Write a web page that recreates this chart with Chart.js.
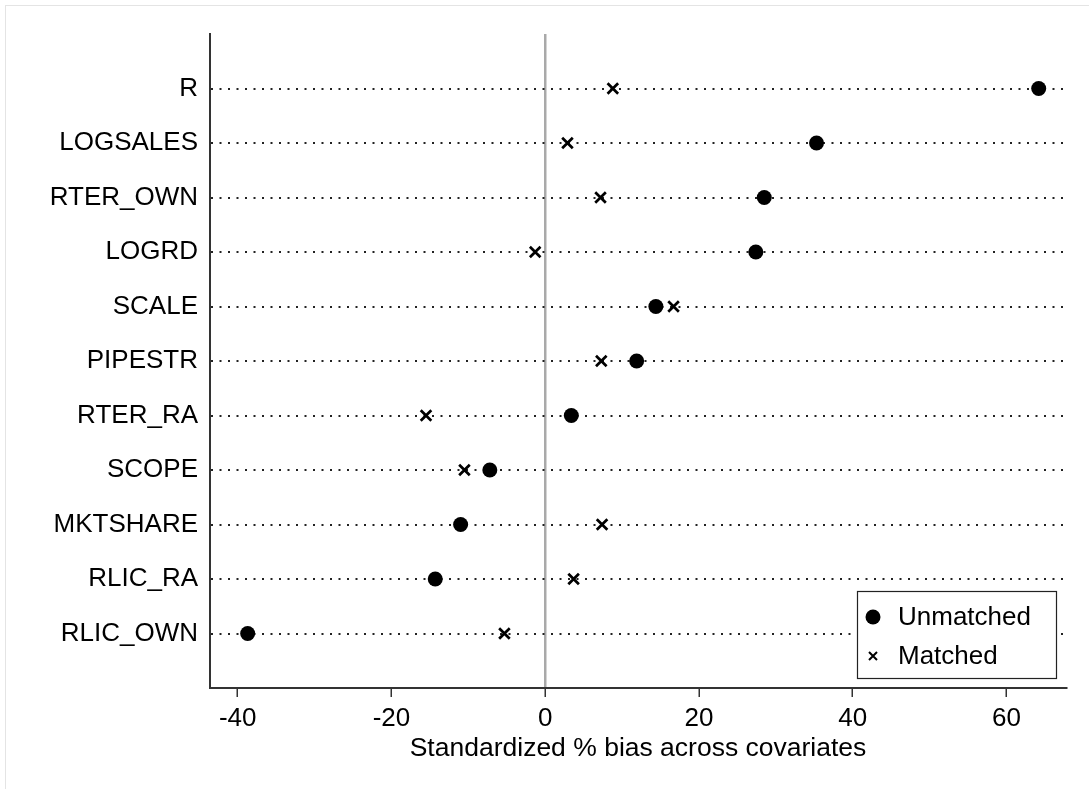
<!DOCTYPE html>
<html>
<head>
  <meta charset="UTF-8" />
  <title>Standardized bias</title>
  <script src="https://cdn.jsdelivr.net/npm/chart.js"></script>
  <style>
    body { margin: 0; background: #fff; }
    .wrap { position: relative; width: 1089px; height: 789px; }
    .frame { position: absolute; left: 5px; top: 5px; right: 0; bottom: 0; border-top: 1px solid #e4e4e4; border-left: 1px solid #e4e4e4; pointer-events: none; }
    canvas { position: absolute; left: 0; top: 0; }
  </style>
</head>
<body>
  <div class="wrap">
    <canvas id="biasChart" width="1089" height="789"></canvas>
    <div class="frame"></div>
  </div>

  <script>
    const covariates = ['R', 'LOGSALES', 'RTER_OWN', 'LOGRD', 'SCALE', 'PIPESTR', 'RTER_RA', 'SCOPE', 'MKTSHARE', 'RLIC_RA', 'RLIC_OWN'];
    const unmatched = [64.2, 35.3, 28.5, 27.4, 14.4, 11.9, 3.4, -7.2, -11.0, -14.3, -38.7];
    const matched = [8.8, 2.9, 7.2, -1.3, 16.7, 7.3, -15.5, -10.5, 7.4, 3.7, -5.3];
    const xTicks = [-40, -20, 0, 20, 40, 60];

    const FONT = '"Liberation Sans", Arial, Helvetica, sans-serif';

    const toPoints = (vals) => vals.map((v, i) => ({ x: v, y: i + 1 }));

    // legend box drawn inside the plot, lower right
    const boxLegend = {
      id: 'boxLegend',
      afterDraw(chart) {
        const { ctx, chartArea } = chart;
        const w = 199, h = 87;
        const x0 = chartArea.right - 10 - w;
        const y0 = chartArea.bottom - 10 - h;
        ctx.save();
        ctx.fillStyle = '#fff';
        ctx.fillRect(x0, y0, w, h);
        ctx.strokeStyle = '#222';
        ctx.lineWidth = 1.2;
        ctx.strokeRect(x0 + 0.5, y0 + 0.5, w, h);

        const mx = x0 + 16;
        const y1 = y0 + 26, y2 = y0 + 65;
        ctx.fillStyle = '#000';
        ctx.beginPath();
        ctx.arc(mx, y1, 7.5, 0, Math.PI * 2);
        ctx.fill();

        ctx.strokeStyle = '#000';
        ctx.lineWidth = 2;
        const c = 4;
        ctx.beginPath();
        ctx.moveTo(mx - c, y2 - c); ctx.lineTo(mx + c, y2 + c);
        ctx.moveTo(mx - c, y2 + c); ctx.lineTo(mx + c, y2 - c);
        ctx.stroke();

        ctx.font = '26px ' + FONT;
        ctx.textBaseline = 'middle';
        ctx.textAlign = 'left';
        ctx.fillText(chart.data.datasets[0].label, x0 + 41, y1 + 1);
        ctx.fillText(chart.data.datasets[1].label, x0 + 41, y2 + 1);
        ctx.restore();
      }
    };

    new Chart(document.getElementById('biasChart'), {
      type: 'scatter',
      data: {
        datasets: [
          {
            label: 'Unmatched',
            data: toPoints(unmatched),
            pointStyle: 'circle',
            pointRadius: 7.5,
            pointBackgroundColor: '#000',
            pointBorderColor: '#000',
            pointBorderWidth: 0,
          },
          {
            label: 'Matched',
            data: toPoints(matched),
            pointStyle: 'crossRot',
            pointRadius: 7.5,
            pointBorderColor: '#000',
            pointBorderWidth: 2.7,
          }
        ]
      },
      options: {
        responsive: false,
        animation: false,
        layout: { padding: { top: 34, right: 23, left: 0, bottom: 0 } },
        plugins: {
          legend: { display: false },
          tooltip: { enabled: false }
        },
        scales: {
          x: {
            type: 'linear',
            min: -43.6,
            max: 67.75,
            afterBuildTicks: (scale) => { scale.ticks = xTicks.map(v => ({ value: v })); },
            afterFit: (scale) => { scale.height = 101; },
            ticks: {
              color: '#000',
              font: { family: FONT, size: 26 },
              padding: 6,
              maxRotation: 0,
            },
            grid: {
              color: (c) => (c.tick && c.tick.value === 0 ? '#a9a9a9' : 'rgba(0,0,0,0)'),
              lineWidth: 2.5,
              drawTicks: true,
              tickLength: 9,
              tickColor: '#333',
              tickWidth: 1.5,
            },
            border: { display: true, color: '#333', width: 2 },
            title: {
              display: true,
              text: 'Standardized % bias across covariates',
              color: '#000',
              font: { family: FONT, size: 26.5 },
              padding: { top: 2, bottom: 24 },
            }
          },
          y: {
            type: 'linear',
            min: 0,
            max: 12,
            reverse: true,
            afterBuildTicks: (scale) => { scale.ticks = covariates.map((_, i) => ({ value: i + 1 })); },
            afterFit: (scale) => { scale.width = 210; },
            ticks: {
              color: '#000',
              font: { family: FONT, size: 26 },
              padding: 12,
              callback: (v) => covariates[v - 1],
            },
            grid: {
              color: '#222',
              lineWidth: 2,
              drawTicks: false,
            },
            border: { display: true, color: '#333', width: 2, dash: [2, 6.5] },
          }
        }
      },
      plugins: [boxLegend]
    });
  </script>
</body>
</html>
